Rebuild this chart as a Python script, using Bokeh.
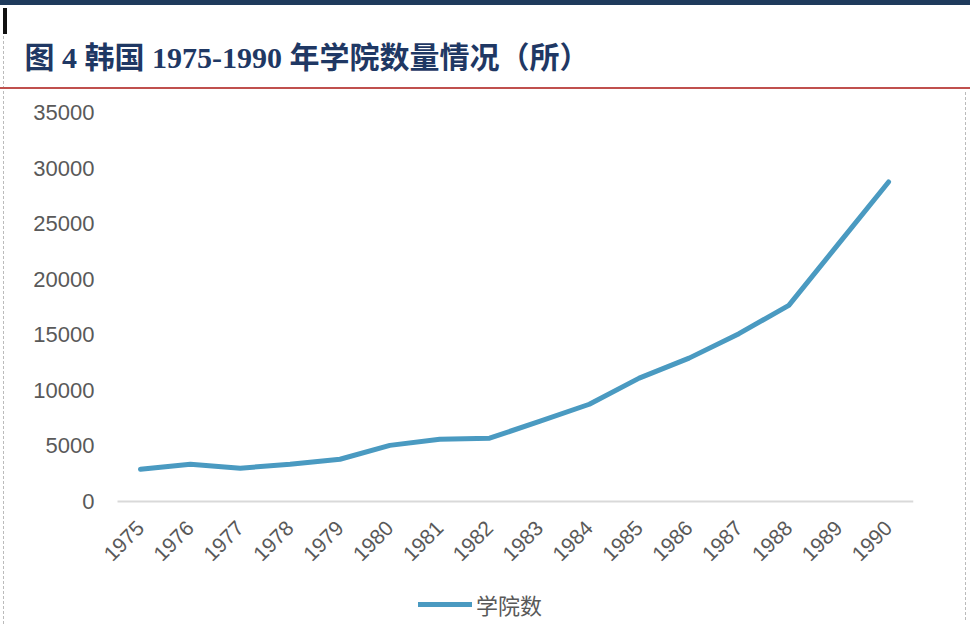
import math
from bokeh.plotting import figure
from bokeh.models import (ColumnDataSource, Legend, LegendItem, FixedTicker, Range1d, Title)
from bokeh.embed import file_html
from bokeh.resources import INLINE

# ---- data ----
years = [1975, 1976, 1977, 1978, 1979, 1980, 1981, 1982,
         1983, 1984, 1985, 1986, 1987, 1988, 1989, 1990]
colleges = [2900, 3350, 3000, 3350, 3800, 5050, 5600, 5700,
            7200, 8750, 11100, 12900, 15100, 17650, 23200, 28750]
y_ticks = [0, 5000, 10000, 15000, 20000, 25000, 30000, 35000]
title_text = "图 4 韩国 1975-1990 年学院数量情况（所）"
series_name = "学院数"

W, H = 970, 626
FRAME_LEFT, FRAME_TOP, AXIS_Y = 98, 112, 501
Y_MAX = 35000
y_min = -Y_MAX * (H - AXIS_Y) / (AXIS_Y - FRAME_TOP)   # frame continues below the axis
x_axis_start, x_axis_end = 1974.54, 1990.5              # visible extent of the x axis line
x_min = 1974.158                                        # frame starts a little left of the axis
label_color = "#595959"

# page decorations (top rule, marker, red rule under the title, dashed side frame)
deco = ", ".join([
    "linear-gradient(#1F3B5C, #1F3B5C) 0px 0px / 970px 5px no-repeat",
    "linear-gradient(#111111, #111111) 3px 8px / 4px 26px no-repeat",
    "linear-gradient(#C0504D, #C0504D) 0px 87px / 970px 2px no-repeat",
    "repeating-linear-gradient(to bottom, #BBBBBB 0px, #BBBBBB 3px, transparent 3px, transparent 5px) 3px 36px / 1px 590px no-repeat",
    "repeating-linear-gradient(to bottom, #BBBBBB 0px, #BBBBBB 3px, transparent 3px, transparent 5px) 965px 92px / 1px 530px no-repeat",
    "#FFFFFF",
])

p = figure(width=W, height=H, output_backend="svg", toolbar_location=None,
           x_range=Range1d(x_min, x_axis_end), y_range=Range1d(y_min, Y_MAX),
           min_border_left=FRAME_LEFT, min_border_right=57,
           min_border_top=FRAME_TOP, min_border_bottom=0)
p.styles = {"background": deco}
p.outline_line_color = None
p.background_fill_color = None
p.border_fill_color = None
p.xgrid.visible = False
p.ygrid.visible = False

p.title = Title(text=title_text, align="left", offset=24 - FRAME_LEFT, standoff=77,
                text_font="Liberation Serif, Noto Sans CJK SC",
                text_font_size="30px", text_font_style="bold",
                text_color="#1F3864")

src = ColumnDataSource(dict(x=years, y=colleges))
r = p.line("x", "y", source=src, line_color="#4A9AC1", line_width=5,
           line_join="round", line_cap="round")

xa = p.xaxis[0]
xa.fixed_location = 0
xa.bounds = (x_axis_start, x_axis_end)
xa.ticker = FixedTicker(ticks=years)
xa.major_label_orientation = math.pi / 4
xa.major_label_text_font = "Liberation Sans"
xa.major_label_text_font_size = "21px"
xa.major_label_text_color = label_color
xa.major_tick_line_color = None
xa.minor_tick_line_color = None
xa.axis_line_color = "#D9D9D9"
xa.axis_line_width = 2
xa.major_label_standoff = 17

ya = p.yaxis[0]
ya.ticker = FixedTicker(ticks=y_ticks)
ya.major_label_text_font = "Liberation Sans"
ya.major_label_text_font_size = "22px"
ya.major_label_text_color = label_color
ya.major_tick_line_color = None
ya.minor_tick_line_color = None
ya.major_tick_out = 0
ya.axis_line_color = None
ya.major_label_standoff = 4

legend = Legend(items=[LegendItem(label=series_name, renderers=[r])],
                location=(418 - FRAME_LEFT, 6), orientation="horizontal",
                label_text_font="Noto Sans CJK SC", label_text_font_size="22px",
                label_text_color=label_color, glyph_width=54, glyph_height=24,
                label_standoff=4, padding=0, margin=0,
                border_line_color=None, background_fill_alpha=0)
p.add_layout(legend, "center")

open("out.html", "w").write(file_html(p, INLINE))
